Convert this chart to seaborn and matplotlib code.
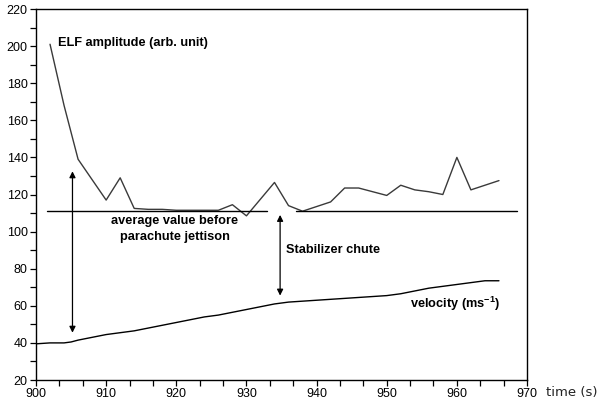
import pandas as pd
import matplotlib
matplotlib.use("Agg")
import matplotlib.pyplot as plt
from matplotlib.ticker import MultipleLocator
import seaborn as sns

# ELF amplitude (arb. unit), sampled every 2 s
elf_time = [902, 904, 906, 908, 910, 912, 914, 916, 918, 920, 922, 924, 926, 928,
            930, 932, 934, 936, 938, 940, 942, 944, 946, 948, 950, 952, 954, 956,
            958, 960, 962, 964, 966]
elf_amp = [201, 168, 139, 128, 117, 129, 112.5, 112, 112, 111.5, 111.5, 111.5, 111.5,
           114.5, 108.5, 117.5, 126.5, 114, 111, 113.5, 116, 123.5, 123.5, 121.5,
           119.5, 125, 122.5, 121.5, 120, 140, 122.5, 125, 127.5]

# velocity (m/s)
vel_time = [900, 902, 904, 905, 906, 908, 910, 912, 914, 916, 918, 920, 922, 924, 926,
            928, 930, 932, 934, 936, 938, 940, 942, 944, 946, 948, 950, 952, 954,
            956, 958, 960, 962, 964, 966]
vel = [39.5, 40, 40, 40.5, 41.5, 43, 44.5, 45.5, 46.5, 48, 49.5, 51, 52.5, 54, 55,
       56.5, 58, 59.5, 61, 62, 62.5, 63, 63.5, 64, 64.5, 65, 65.5, 66.5, 68, 69.5,
       70.5, 71.5, 72.5, 73.5, 73.5]

# average value before parachute jettison
avg_level = 111.2
avg_spans = [(901.5, 933), (937.1, 968.6)]

sns.set_style("ticks")
plt.rcParams['font.family'] = ['Liberation Sans', 'DejaVu Sans']
plt.rcParams['text.color'] = 'black'
plt.rcParams['mathtext.fontset'] = 'custom'
plt.rcParams['mathtext.bf'] = 'Liberation Sans:bold'

fig = plt.figure(figsize=(5.98, 4.04), dpi=100)
ax = fig.add_axes([0.0602, 0.0594, 0.8211, 0.9183])

elf_df = pd.DataFrame({"time": elf_time, "amp": elf_amp})
vel_df = pd.DataFrame({"time": vel_time, "vel": vel})
sns.lineplot(data=elf_df, x="time", y="amp", ax=ax, color="#3a3a3a", lw=1.0)
sns.lineplot(data=vel_df, x="time", y="vel", ax=ax, color="black", lw=1.0)

for x0, x1 in avg_spans:
    ax.plot([x0, x1], [avg_level, avg_level], color="black", lw=1.0)

arrow = dict(arrowstyle="<|-|>", color="black", lw=0.9, mutation_scale=9,
             shrinkA=0, shrinkB=0)
ax.annotate("", xy=(905.2, 45.5), xytext=(905.2, 132.5), arrowprops=arrow)
ax.annotate("", xy=(934.8, 65.5), xytext=(934.8, 109), arrowprops=arrow)

fs = 9.2
ax.text(903.2, 201.7, "ELF amplitude (arb. unit)", fontsize=fs, fontweight="bold",
        va="center", ha="left", color="black")
ax.text(919.8, 101.4, "average value before\nparachute jettison", fontsize=fs,
        fontweight="bold", va="center", ha="center", linespacing=1.35, color="black")
ax.text(935.6, 90, "Stabilizer chute", fontsize=fs, fontweight="bold",
        va="center", ha="left", color="black")
ax.text(953.3, 61, r"velocity (ms$^{\mathbf{-1}}$)", fontsize=fs, fontweight="bold",
        va="center", ha="left", color="black")

ax.set_xlim(900, 970)
ax.set_ylim(20, 220)
ax.xaxis.set_major_locator(MultipleLocator(10))
ax.xaxis.set_minor_locator(MultipleLocator(10 / 3))
ax.yaxis.set_major_locator(MultipleLocator(20))
ax.yaxis.set_minor_locator(MultipleLocator(10))
ax.tick_params(which="both", direction="out", length=4, width=0.9,
               labelsize=9, pad=2, colors="black")
ax.set_xlabel("")
ax.set_ylabel("")
for s in ax.spines.values():
    s.set_visible(True)
    s.set_linewidth(1.0)
    s.set_color("black")

fig.text(0.913, 0.028, "time (s)", fontsize=9.5, color="#222222",
         family=["DejaVu Sans"], ha="left", va="center")

fig.savefig("out.png", dpi=100)
